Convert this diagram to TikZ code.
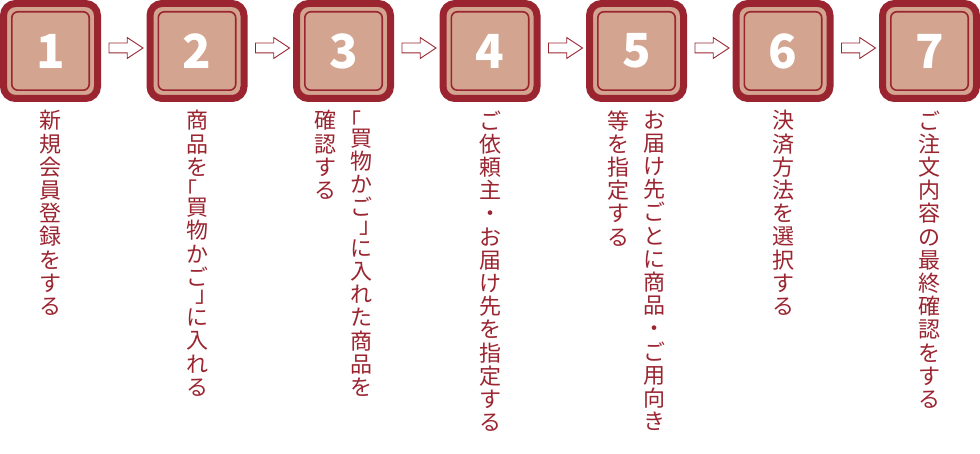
\documentclass[tikz,border=0pt]{standalone}
\usepackage{fontspec}
\newfontfamily\jpfont{Noto Sans CJK JP}
\usetikzlibrary{positioning,shapes.arrows}
\definecolor{stepred}{RGB}{154,37,48}
\definecolor{steptan}{RGB}{211,164,143}
% stack the characters of a label one under another
\def\lbr{「}
\def\rbr{」}
\def\tatecell#1{\hbox to 22pt{\hss#1\hss}}
\def\tatestep#1{\ifx\relax#1\else
  \ifx\lbr#1\tatecell{\kern-22pt「}\vskip-6pt
  \else\ifx\rbr#1\vskip-6pt\tatecell{」\kern-18pt}
  \else\tatecell{#1}\fi\fi
  \expandafter\tatestep\fi}
\newcommand\tate[1]{\vtop{\baselineskip=23.2pt\lineskiplimit=-20pt\tatestep#1\relax}}
\tikzset{
  stepbox/.style={draw=stepred, line width=7pt, fill=steptan, rounded corners=12pt,
    minimum width=94pt, minimum height=95pt, inner sep=0pt, outer sep=0pt,
    text=white, font=\jpfont\bfseries\fontsize{47pt}{47pt}\selectfont},
  flowarrow/.style={single arrow, draw=stepred, line width=0.9pt, fill=white,
    minimum height=34pt, minimum width=20pt, inner sep=4.5pt, outer sep=0pt,
    single arrow head extend=5.5pt, single arrow tip angle=67},
  steptext/.style={inner sep=0pt, outer sep=0pt, text=stepred,
    font=\jpfont\fontsize{22pt}{23pt}\selectfont}
}
\begin{document}
\begin{tikzpicture}
\useasboundingbox (0,0) rectangle (980pt,-454pt);
% steps
\node (s1) [stepbox] at (50.5pt,-51pt) {1};
\node (s2) [stepbox, right=52.5pt of s1] {2};
\node (s3) [stepbox, right=52.5pt of s2] {3};
\node (s4) [stepbox, right=52.5pt of s3] {4};
\node (s5) [stepbox, right=52.5pt of s4] {5};
\node (s6) [stepbox, right=52.5pt of s5] {6};
\node (s7) [stepbox, right=52.5pt of s6] {7};
\foreach \s in {s1,s2,s3,s4,s5,s6,s7}
  \draw[stepred, line width=1.6pt, rounded corners=6pt]
    ([shift={(8.3pt,8.3pt)}]\s.south west) rectangle ([shift={(-8.3pt,-8.3pt)}]\s.north east);
% arrows
\node (a1) [flowarrow, right=11.5pt of s1, yshift=3pt] {};
\node (a2) [flowarrow, right=11.5pt of s2, yshift=3pt] {};
\node (a3) [flowarrow, right=11.5pt of s3, yshift=3pt] {};
\node (a4) [flowarrow, right=11.5pt of s4, yshift=3pt] {};
\node (a5) [flowarrow, right=11.5pt of s5, yshift=3pt] {};
\node (a6) [flowarrow, right=11.5pt of s6, yshift=3pt] {};
% labels
\node (t1) [steptext, below=12pt of s1, anchor=north] {\tate{新規会員登録をする}};
\node (t2) [steptext, below=12pt of s2, anchor=north] {\tate{商品を\lbr 買物かご\rbr に入れる}};
\node (t3a) [steptext, below=12pt of s3, xshift=18pt, anchor=north] {\tate{\lbr 買物かご\rbr に入れた商品を}};
\node (t3b) [steptext, below=12pt of s3, xshift=-18pt, anchor=north] {\tate{確認する}};
\node (t4) [steptext, below=12pt of s4, anchor=north] {\tate{ご依頼主・お届け先を指定する}};
\node (t5a) [steptext, below=12pt of s5, xshift=18pt, anchor=north] {\tate{お届け先ごとに商品・ご用向き}};
\node (t5b) [steptext, below=12pt of s5, xshift=-18pt, anchor=north] {\tate{等を指定する}};
\node (t6) [steptext, below=12pt of s6, anchor=north] {\tate{決済方法を選択する}};
\node (t7) [steptext, below=12pt of s7, anchor=north] {\tate{ご注文内容の最終確認をする}};
\end{tikzpicture}
\end{document}
